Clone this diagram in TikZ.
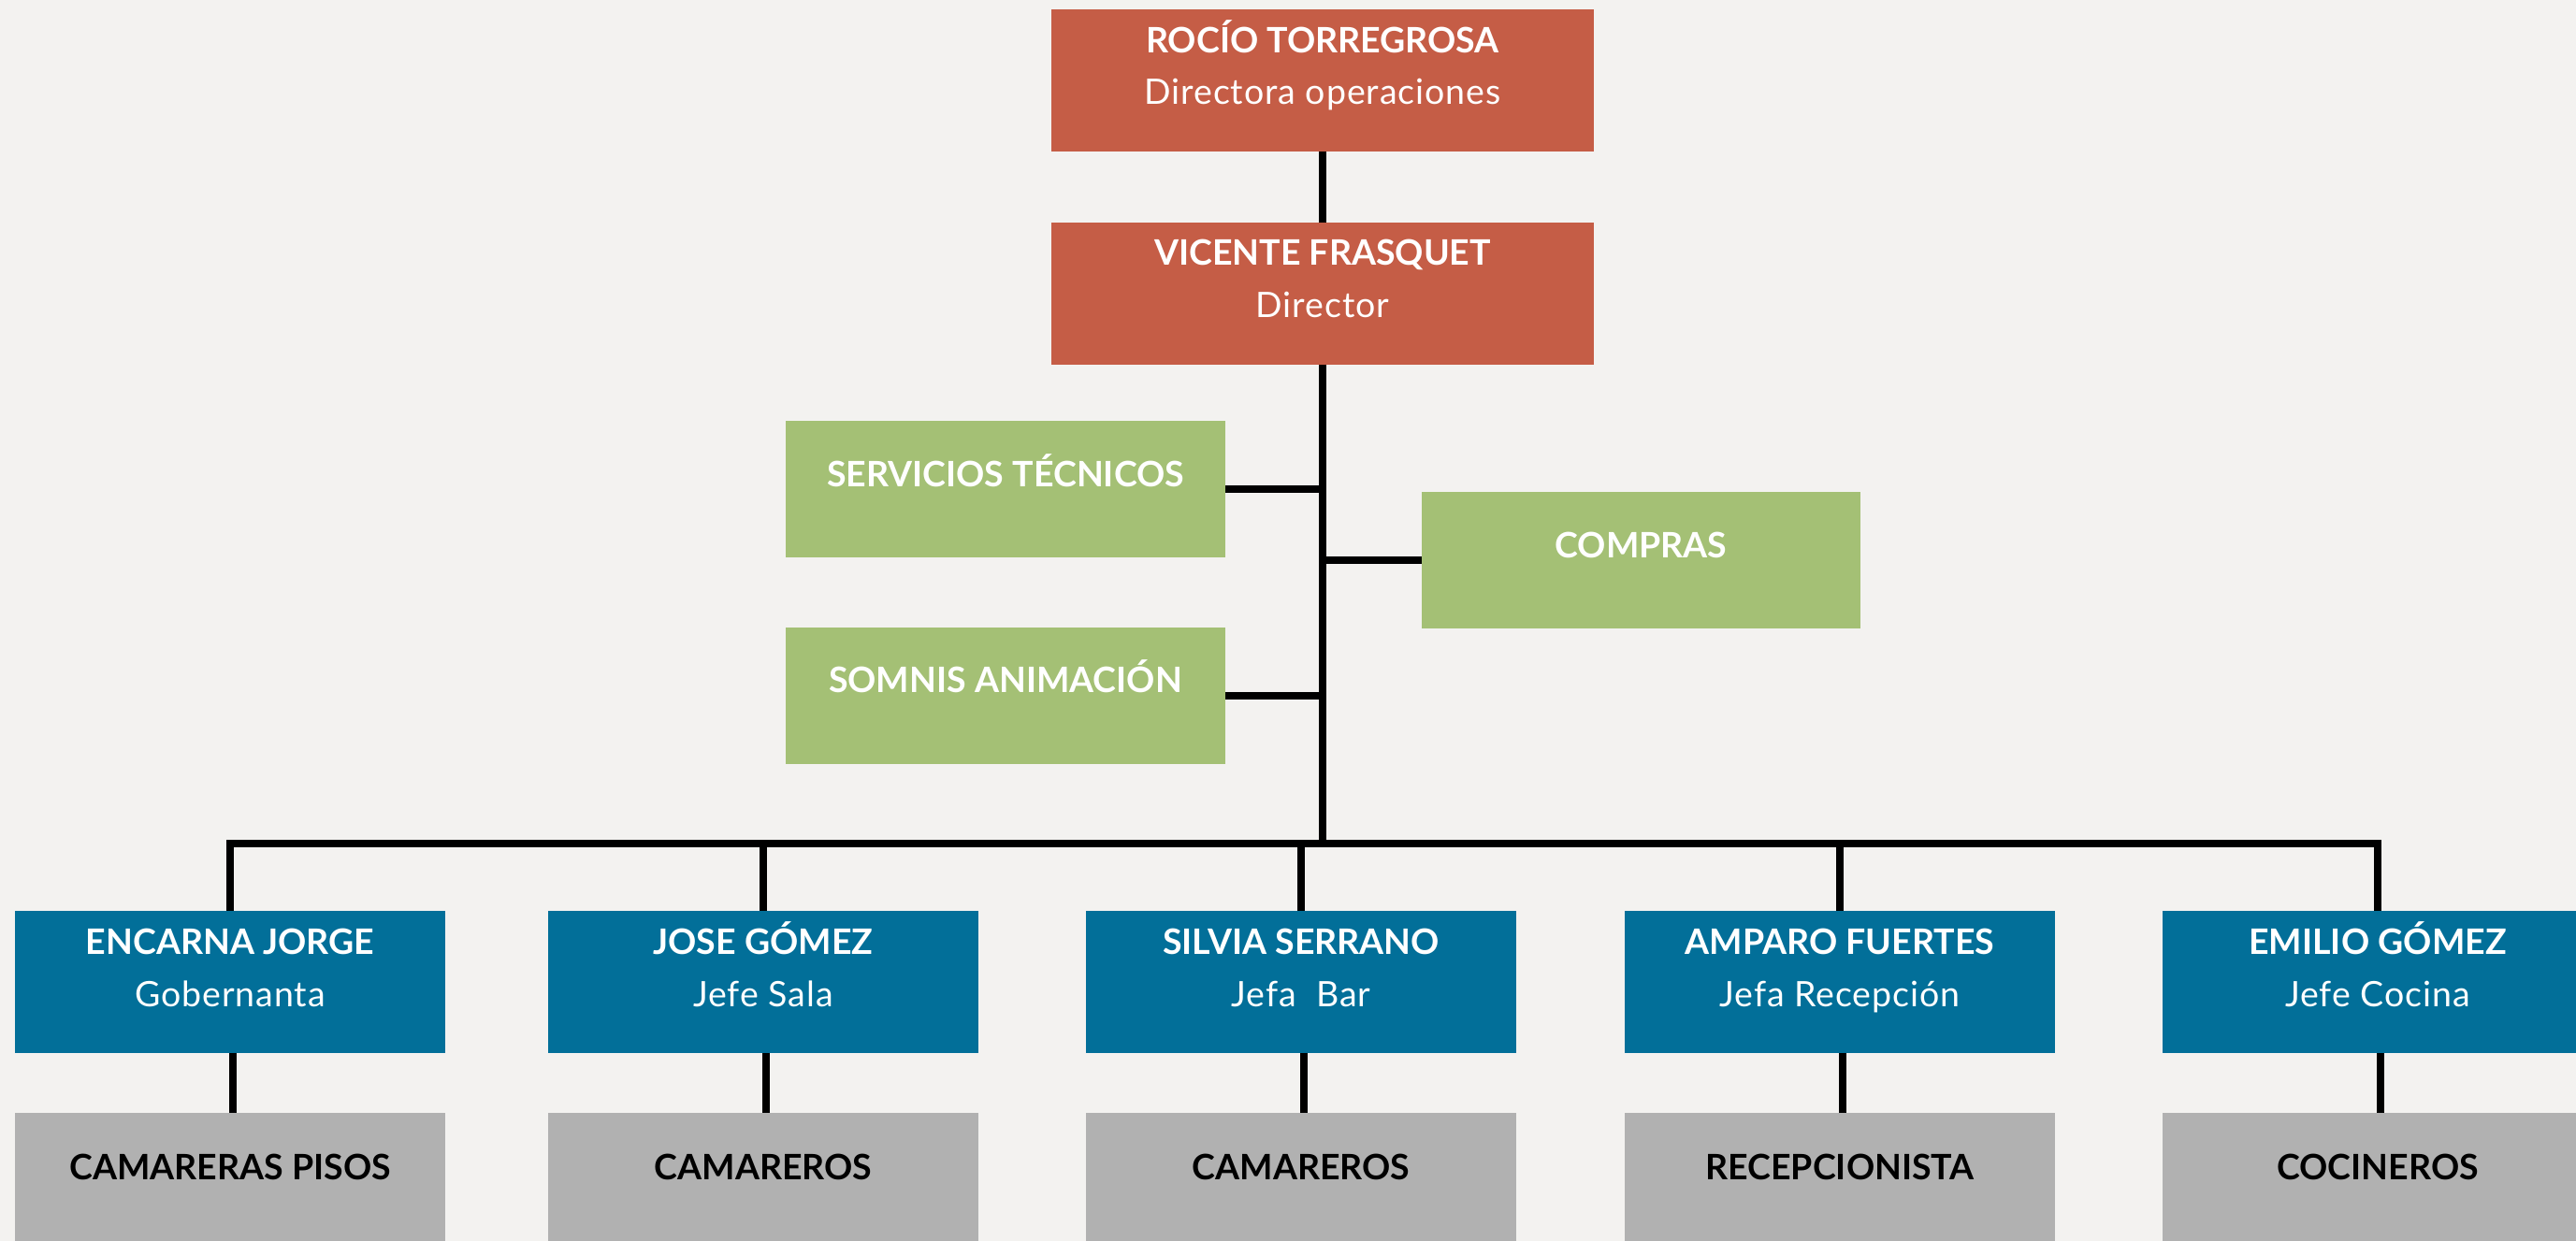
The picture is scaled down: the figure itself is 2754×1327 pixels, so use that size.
\documentclass[tikz,border=0pt]{standalone}
\usepackage{fontspec}
\setmainfont{Lato}
\definecolor{bgc}{RGB}{243,242,240}
\definecolor{redc}{RGB}{197,93,70}
\definecolor{greenc}{RGB}{164,192,117}
\definecolor{bluec}{RGB}{2,111,153}
\definecolor{grayc}{RGB}{177,177,177}
\tikzset{
  orgbox/.style={draw=none, inner sep=0pt, minimum width=460pt, minimum height=152pt},
  redbox/.style={orgbox, fill=redc, minimum width=580pt},
  greenbox/.style={orgbox, fill=greenc, minimum width=470pt, minimum height=146pt},
  bluebox/.style={orgbox, fill=bluec},
  graybox/.style={orgbox, fill=grayc},
  nametext/.style={anchor=base, inner sep=0pt, text=white, font=\fontsize{37.5}{44}\selectfont\bfseries},
  subtext/.style={anchor=base, inner sep=0pt, text=white, font=\fontsize{37.5}{44}\selectfont\addfontfeature{LetterSpace=2.5}},
  darktext/.style={nametext, text=black},
  conn/.style={line width=7.6pt, draw=black},
}
\begin{document}
\begin{tikzpicture}[x=1pt,y=-1pt]
\fill[bgc] (0,0) rectangle (2754,1327);
\clip (0,0) rectangle (2754,1327);
\useasboundingbox (0,0) rectangle (2754,1327);

% top boxes
\node[redbox] (roc) at (1414,86) {};
\node[redbox] (vic) at (1414,314) {};
\node[nametext] (rocN) at ([yshift=-47pt]roc.north) {ROCÍO TORREGROSA};
\node[subtext] (rocT) at ([yshift=-102pt]roc.north) {Directora operaciones};
\node[nametext] (vicN) at ([yshift=-46pt]vic.north) {VICENTE FRASQUET};
\node[subtext] (vicT) at ([yshift=-102pt]vic.north) {Director};

% green boxes
\node[greenbox] (serv) at (1075,523) {};
\node[greenbox, minimum width=469pt] (comp) at (1754.5,599) {};
\node[greenbox] (somn) at (1075,744) {};
\node[nametext] (servN) at ([yshift=-71pt]serv.north) {SERVICIOS TÉCNICOS};
\node[nametext] (compN) at ([yshift=-71pt]comp.north) {COMPRAS};
\node[nametext] (somnN) at ([yshift=-70pt]somn.north) {SOMNIS ANIMACIÓN};

% blue boxes
\node[bluebox] (enc) at (246,1050) {};
\node[bluebox] (jos) at (816,1050) {};
\node[bluebox] (sil) at (1391,1050) {};
\node[bluebox] (amp) at (1967,1050) {};
\node[bluebox] (emi) at (2542,1050) {};
\foreach \b/\n/\t in {enc/ENCARNA JORGE/Gobernanta, jos/JOSE GÓMEZ/Jefe Sala, sil/SILVIA SERRANO/Jefa\ \ Bar, amp/AMPARO FUERTES/Jefa Recepción, emi/EMILIO GÓMEZ/Jefe Cocina}{
  \node[nametext] (\b N) at ([yshift=-46.5pt]\b.north) {\n};
  \node[subtext] (\b T) at ([yshift=-102.5pt]\b.north) {\t};
}

% gray boxes
\node[graybox] (g1) at (246,1266) {};
\node[graybox] (g2) at (816,1266) {};
\node[graybox] (g3) at (1391,1266) {};
\node[graybox] (g4) at (1967,1266) {};
\node[graybox] (g5) at (2542,1266) {};
\node[darktext] (g1N) at ([yshift=-72pt]g1.north) {CAMARERAS PISOS};
\node[darktext] (g2N) at ([yshift=-72pt]g2.north) {CAMAREROS};
\node[darktext] (g3N) at ([yshift=-72pt]g3.north) {CAMAREROS};
\node[darktext] (g4N) at ([yshift=-72pt]g4.north) {RECEPCIONISTA};
\node[darktext] (g5N) at ([yshift=-72pt]g5.north) {COCINEROS};

% connectors
\coordinate (bus) at (1414,902);
\draw[conn] (roc.south) -- (vic.north);
\draw[conn] (vic.south) -- (bus);
\draw[conn] (serv.east) -- (serv.east -| bus);
\draw[conn] (somn.east) -- (somn.east -| bus);
\draw[conn] (comp.west) -- (comp.west -| bus);
\draw[conn, miter limit=10] (enc.north) |- (bus) -| (emi.north);
\draw[conn] (jos.north) -- (jos.north |- bus);
\draw[conn] (sil.north) -- (sil.north |- bus);
\draw[conn] (amp.north) -- (amp.north |- bus);
\foreach \a/\c in {enc/g1, jos/g2, sil/g3, amp/g4, emi/g5}{
  \draw[conn] ([xshift=3pt]\a.south) -- ([xshift=3pt]\c.north);
}
\end{tikzpicture}
\end{document}
